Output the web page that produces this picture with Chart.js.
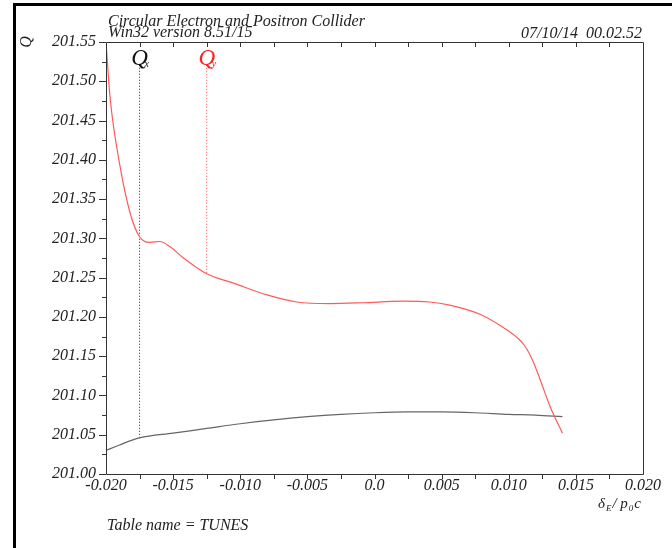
<!DOCTYPE html>
<html>
<head>
<meta charset="utf-8">
<script src="https://cdn.jsdelivr.net/npm/chart.js@4.4.1/dist/chart.umd.min.js"></script>
<style>
html, body { margin: 0; padding: 0; background: #fff; }
#wrap { position: relative; width: 672px; height: 548px; overflow: hidden; }
#frame { position: absolute; left: 13px; top: 3px; width: 700px; height: 600px; border-left: 3px solid #000; border-top: 3px solid #000; }
#c { position: absolute; left: 0; top: 0; }
</style>
</head>
<body>
<div id="wrap">
	<div id="frame"></div>
	<canvas id="c" width="672" height="548"></canvas>
</div>
<script>
// horizontal tune Qx vs momentum offset
var qxDelta = [-0.0200, -0.0190, -0.0175, -0.0150, -0.0125, -0.0100, -0.0075, -0.0050, -0.0025, 0.0000, 0.0025, 0.0050, 0.0075, 0.0100, 0.0120, 0.0140];
var qxTune  = [201.030, 201.037, 201.046, 201.052, 201.058, 201.064, 201.069, 201.073, 201.076, 201.078, 201.079, 201.079, 201.078, 201.076, 201.075, 201.073];

// vertical tune Qy vs momentum offset
var qyDelta = [-0.0200, -0.0197, -0.0190, -0.0182, -0.0175, -0.0167, -0.0160, -0.0152, -0.0143, -0.0125, -0.0105, -0.0080, -0.0058, -0.0033, -0.0009, 0.0021, 0.0041, 0.0056, 0.0079, 0.0099, 0.0106, 0.0112, 0.0118, 0.0123, 0.0131, 0.0140];
var qyTune  = [201.550, 201.480, 201.396, 201.332, 201.302, 201.295, 201.296, 201.289, 201.276, 201.255, 201.243, 201.228, 201.219, 201.217, 201.218, 201.220, 201.219, 201.215, 201.203, 201.183, 201.174, 201.163, 201.144, 201.122, 201.085, 201.052];

// tick labels
var xTickValues = [-0.020, -0.015, -0.010, -0.005, 0.0, 0.005, 0.010, 0.015, 0.020];
var xTickLabels = ['-0.020', '-0.015', '-0.010', '-0.005', '0.0', '0.005', '0.010', '0.015', '0.020'];
var yTickValues = [201.00, 201.05, 201.10, 201.15, 201.20, 201.25, 201.30, 201.35, 201.40, 201.45, 201.50, 201.55];

// Qx / Qy markers at the top
var markerNames = ['x', 'y'];
var markerColors = ['#111', '#ff2020'];
var markerDelta = [-0.0175, -0.0125];
var markerTop = 201.521;
var markerBottom = [201.046, 201.255];

var serif = '"Liberation Serif", "DejaVu Serif", serif';

function pts(xs, ys) {
	var out = [];
	for (var i = 0; i < xs.length; i++) out.push({x: xs[i], y: ys[i]});
	return out;
}

var decor = {
	id: 'decor',
	afterDraw: function(chart) {
		var ctx = chart.ctx;
		var a = chart.chartArea;
		var xs = chart.scales.x, ys = chart.scales.y;
		var i, p;

		ctx.save();
		// frame of the plot
		ctx.strokeStyle = '#333';
		ctx.lineWidth = 1;
		ctx.beginPath();
		ctx.moveTo(a.left + 0.5, a.top + 0.5);
		ctx.lineTo(a.right + 0.5, a.top + 0.5);
		ctx.lineTo(a.right + 0.5, a.bottom + 0.5);
		ctx.lineTo(a.left + 0.5, a.bottom + 0.5);
		ctx.closePath();
		ctx.stroke();

		// y ticks, outward, minor every 0.025
		ctx.beginPath();
		for (i = 0; i <= 22; i++) {
			p = Math.round(ys.getPixelForValue(201 + i * 0.025)) + 0.5;
			var len = (i % 2 == 0) ? 7 : 4;
			ctx.moveTo(a.left, p);
			ctx.lineTo(a.left - len, p);
		}
		// x ticks every 0.0025, top inward, bottom outward
		for (i = 1; i < 16; i++) {
			p = Math.round(xs.getPixelForValue(-0.02 + i * 0.0025)) + 0.5;
			ctx.moveTo(p, a.top);
			ctx.lineTo(p, a.top + 5);
			ctx.moveTo(p, a.bottom);
			ctx.lineTo(p, a.bottom + 5);
		}
		ctx.stroke();

		// header
		ctx.fillStyle = '#222';
		ctx.textBaseline = 'alphabetic';
		ctx.textAlign = 'left';
		ctx.font = 'italic 16px ' + serif;
		ctx.fillText('Circular Electron and Positron Collider', 108, 26);
		ctx.fillText('Win32 version 8.51/15', 108, 37);
		ctx.textAlign = 'right';
		ctx.fillText('07/10/14  00.02.52', 642, 38);
		ctx.textAlign = 'left';
		ctx.fillText('Table name = TUNES', 107, 530);

		// y axis title
		ctx.save();
		ctx.translate(27, 42);
		ctx.rotate(-Math.PI / 2);
		ctx.textAlign = 'center';
		ctx.textBaseline = 'middle';
		ctx.fillText('Q', 0, 0);
		ctx.restore();

		// x axis title: dE / p0c
		var parts = [['\u03b4', 15, 0], ['E', 9, 3], ['/ p', 15, 0], ['0', 9, 3], ['c', 15, 0]];
		var w = 0;
		for (i = 0; i < parts.length; i++) {
			ctx.font = 'italic ' + parts[i][1] + 'px ' + serif;
			w += ctx.measureText(parts[i][0]).width + 1;
		}
		var tx = 642 - w;
		ctx.textAlign = 'left';
		for (i = 0; i < parts.length; i++) {
			ctx.font = 'italic ' + parts[i][1] + 'px ' + serif;
			ctx.fillText(parts[i][0], tx, 508 + parts[i][2]);
			tx += ctx.measureText(parts[i][0]).width + 1;
		}

		// Qx, Qy labels
		for (i = 0; i < markerNames.length; i++) {
			var mx = xs.getPixelForValue(markerDelta[i]);
			ctx.fillStyle = markerColors[i];
			ctx.font = 'italic 23px ' + serif;
			ctx.textAlign = 'center';
			ctx.fillText('Q', mx, 65);
			ctx.font = 'italic 10px ' + serif;
			ctx.textAlign = 'left';
			ctx.fillText(markerNames[i], mx + 5, 67);
		}
		ctx.restore();
	}
};

var tickFont = {family: serif, size: 16, style: 'italic'};

var chart = new Chart(document.getElementById('c'), {
	type: 'line',
	data: {
		datasets: [
			{
				data: pts(qyDelta, qyTune),
				borderColor: 'rgb(255,90,90)',
				borderWidth: 1.2,
				pointRadius: 0,
				cubicInterpolationMode: 'monotone',
				fill: false
			},
			{
				data: pts(qxDelta, qxTune),
				borderColor: '#666',
				borderWidth: 1.2,
				pointRadius: 0,
				cubicInterpolationMode: 'monotone',
				fill: false
			},
			{
				data: [{x: markerDelta[0], y: markerTop}, {x: markerDelta[0], y: markerBottom[0]}],
				borderColor: '#222',
				borderWidth: 1,
				borderDash: [1, 2],
				pointRadius: 0
			},
			{
				data: [{x: markerDelta[1], y: markerTop}, {x: markerDelta[1], y: markerBottom[1]}],
				borderColor: 'rgb(255,70,70)',
				borderWidth: 1,
				borderDash: [1, 2],
				pointRadius: 0
			}
		]
	},
	options: {
		responsive: false,
		animation: false,
		layout: {padding: {left: 0, top: 42, right: 29, bottom: 0}},
		plugins: {legend: {display: false}, tooltip: {enabled: false}},
		scales: {
			x: {
				type: 'linear',
				min: -0.02,
				max: 0.02,
				grid: {display: false, drawTicks: false},
				border: {display: false},
				afterBuildTicks: function(s) {
					s.ticks = xTickValues.map(function(v) { return {value: v}; });
				},
				afterFit: function(s) { s.height = 74; },
				ticks: {
					font: tickFont,
					color: '#222',
					padding: 2,
					maxRotation: 0,
					autoSkip: false,
					callback: function(v, i) { return xTickLabels[i]; }
				}
			},
			y: {
				type: 'linear',
				min: 201.0,
				max: 201.55,
				grid: {display: false, drawTicks: false},
				border: {display: false},
				afterBuildTicks: function(s) {
					s.ticks = yTickValues.map(function(v) { return {value: v}; });
				},
				afterFit: function(s) { s.width = 106; },
				ticks: {
					font: tickFont,
					color: '#222',
					padding: 10,
					autoSkip: false,
					callback: function(v) { return v.toFixed(2); }
				}
			}
		}
	},
	plugins: [decor]
});
</script>
</body>
</html>
